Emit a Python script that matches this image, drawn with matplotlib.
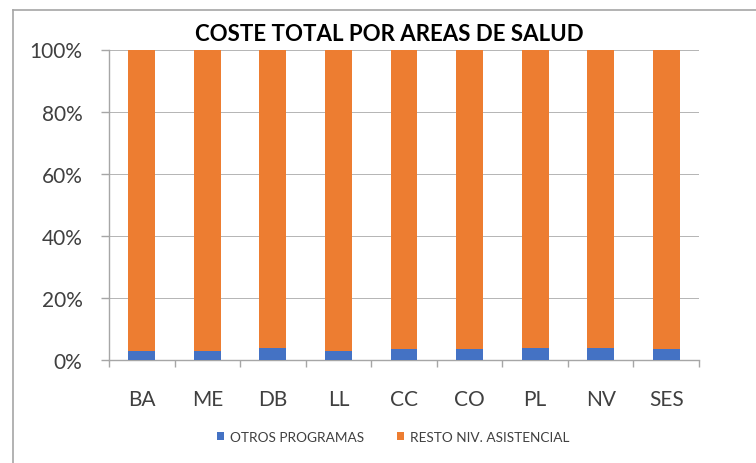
import matplotlib
matplotlib.use("Agg")
import matplotlib.pyplot as plt
from matplotlib.lines import Line2D
from matplotlib.patches import Patch
import numpy as np

categories = ["BA", "ME", "DB", "LL", "CC", "CO", "PL", "NV", "SES"]
otros_programas = [2.8, 2.8, 4.0, 2.8, 3.4, 3.4, 4.0, 4.0, 3.4]
resto_asistencial = [97.2, 97.2, 96.0, 97.2, 96.6, 96.6, 96.0, 96.0, 96.6]
y_ticks = [0, 20, 40, 60, 80, 100]
title = "COSTE TOTAL POR AREAS DE SALUD"
series_names = ["OTROS PROGRAMAS", "RESTO NIV. ASISTENCIAL"]

BLUE = "#4472C4"
ORANGE = "#ED7D31"
GRID = "#A6A6A6"
TXT = "#404040"

plt.rcParams["font.family"] = ["Lato", "DejaVu Sans"]

fig = plt.figure(figsize=(7.56, 4.64), dpi=100)
ax = fig.add_axes([109/756, 1-361/464, (699-109)/756, (361-50.5)/464])

otros = np.array(otros_programas)
resto = np.array(resto_asistencial)
tot = otros + resto
p1 = otros / tot * 100
p2 = resto / tot * 100
x = np.arange(len(categories))
w = 0.41
ax.bar(x, p1, width=w, color=BLUE, zorder=3, label=series_names[0])
ax.bar(x, p2, bottom=p1, width=w, color=ORANGE, zorder=3, label=series_names[1])

ax.set_xlim(-0.5, len(categories) - 0.5)
ax.set_ylim(0, 100)
ax.set_yticks(y_ticks)
ax.set_yticklabels([f"{v}%" for v in y_ticks])
ax.set_xticks(x)
ax.set_xticklabels(categories)
ax.set_xticks(np.arange(len(categories) + 1) - 0.5, minor=True)

ax.yaxis.grid(True, color="#B4B4B4", linewidth=0.7, zorder=0)
ax.set_axisbelow(True)
for s in ["top", "right"]:
    ax.spines[s].set_visible(False)
for s in ["left", "bottom"]:
    ax.spines[s].set_color(GRID)
    ax.spines[s].set_linewidth(1.0)

ax.tick_params(axis="y", direction="out", length=6, width=1.0, color=GRID,
               labelsize=15, labelcolor=TXT, pad=13)
ax.tick_params(axis="x", which="major", length=0, labelsize=15, labelcolor=TXT, pad=21)
ax.tick_params(axis="x", which="minor", direction="out", length=5, width=1.0, color=GRID)

fig.text(389/756, 1-34.5/464, title, ha="center", va="center",
         fontsize=16, fontweight="bold", color="black")

handles = [Patch(facecolor=BLUE, edgecolor="none"), Patch(facecolor=ORANGE, edgecolor="none")]
fig.legend(handles, series_names, loc="center", bbox_to_anchor=(393/756, 1-438/464),
           ncol=2, frameon=False, fontsize=9.8, handlelength=0.55, handleheight=0.55,
           handletextpad=0.4, columnspacing=2.4, labelcolor=TXT)

# chart frame (partially cropped in reference)
fig.add_artist(Line2D([13/756, 13/756], [0, 1-11/464], transform=fig.transFigure,
                      color="#A6A6A6", linewidth=1.2))
fig.add_artist(Line2D([13/756, 1], [1-11/464, 1-11/464], transform=fig.transFigure,
                      color="#A6A6A6", linewidth=1.2))

fig.savefig("out.png", dpi=100)
